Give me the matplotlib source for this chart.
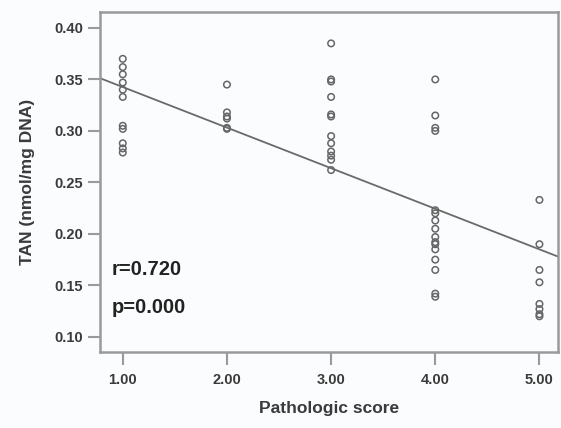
import numpy as np
import matplotlib.pyplot as plt

plt.rcParams['font.family'] = ['Liberation Sans', 'DejaVu Sans']

# TAN level per sample, grouped by pathologic score
score = [1, 2, 3, 4, 5]
tan_1 = [0.370, 0.362, 0.355, 0.347, 0.340, 0.333, 0.305, 0.302, 0.288, 0.283, 0.279]
tan_2 = [0.345, 0.318, 0.314, 0.312, 0.303, 0.302]
tan_3 = [0.385, 0.350, 0.348, 0.333, 0.316, 0.314, 0.295, 0.288, 0.280, 0.276, 0.272, 0.262]
tan_4 = [0.350, 0.315, 0.303, 0.300, 0.223, 0.220, 0.213, 0.205, 0.197, 0.192,
         0.190, 0.185, 0.175, 0.165, 0.142, 0.139]
tan_5 = [0.233, 0.190, 0.165, 0.153, 0.132, 0.127, 0.122, 0.120]

# fitted regression line
fit_slope = -0.0394
fit_intercept = 0.382
r_text = "r=0.720"
p_text = "p=0.000"

groups = [tan_1, tan_2, tan_3, tan_4, tan_5]
bg = '#fbfcfd'
ink = '#3a3a3a'
frame = '#9a9a9a'

fig = plt.figure(figsize=(5.61, 4.28), dpi=100, facecolor=bg)
ax = fig.add_axes([0.178, 0.178, 0.817, 0.794], facecolor=bg)

for s, vals in zip(score, groups):
    ax.scatter([s] * len(vals), vals, s=22, facecolors='none',
               edgecolors='#666666', linewidths=1.1, zorder=3)

xs = np.array([0.78, 5.2])
ax.plot(xs, fit_intercept + fit_slope * xs, color='#6a6a6a', lw=1.3, zorder=2)

ax.set_xlim(0.78, 5.18)
ax.set_ylim(0.0855, 0.4155)
ax.set_xticks(score)
ax.set_xticklabels([f"{s:.2f}" for s in score])
ax.set_yticks([0.10, 0.15, 0.20, 0.25, 0.30, 0.35, 0.40])
ax.set_yticklabels([f"{v:.2f}" for v in [0.10, 0.15, 0.20, 0.25, 0.30, 0.35, 0.40]])

for sp in ax.spines.values():
    sp.set_color(frame)
    sp.set_linewidth(1.8)
ax.tick_params(direction='out', length=9.5, width=1.5, color=frame,
               labelsize=10.5, labelcolor=ink, pad=3)
ax.tick_params(axis='x', pad=6)
ax.tick_params(axis='y', length=9)
for lab in ax.get_xticklabels() + ax.get_yticklabels():
    lab.set_fontweight('bold')

ax.set_xlabel("Pathologic score", fontsize=12.5, fontweight='bold', color=ink, labelpad=10)
ax.set_ylabel("TAN (nmol/mg DNA)", fontsize=12.5, fontweight='bold', color=ink, labelpad=14)

ax.text(0.026, 0.241, r_text, transform=ax.transAxes, fontsize=14.5,
        fontweight='bold', color='#222222', va='center')
ax.text(0.026, 0.129, p_text, transform=ax.transAxes, fontsize=14.5,
        fontweight='bold', color='#222222', va='center')

fig.savefig("out.png", dpi=100, facecolor=bg)
